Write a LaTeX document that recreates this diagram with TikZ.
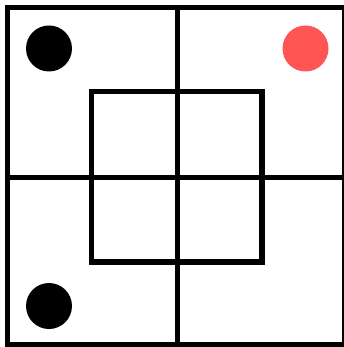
\documentclass[tikz,border=0pt]{standalone}
\definecolor{dotred}{RGB}{255,85,85}
\begin{document}
\begin{tikzpicture}[x=1pt,y=-1pt,
  gridline/.style={line width=5.5pt, black},
  dot/.style={circle, minimum size=46pt, inner sep=0pt, draw=none}]
\useasboundingbox (0,0) rectangle (343,347);
\fill[white] (0,0) rectangle (343,347);
\draw[gridline] (7.5,7.5) rectangle (344.5,344.5);
\draw[gridline] (177.5,7.5) -- (177.5,344.5);
\draw[gridline] (7.5,177.5) -- (344.5,177.5);
\draw[gridline] (91.5,91.5) rectangle (262,262);
\node[dot, fill=black] (tl) at (49,48.5) {};
\node[dot, fill=dotred] (tr) at (305.5,48.5) {};
\node[dot, fill=black] (bl) at (49,306) {};
\end{tikzpicture}
\end{document}
